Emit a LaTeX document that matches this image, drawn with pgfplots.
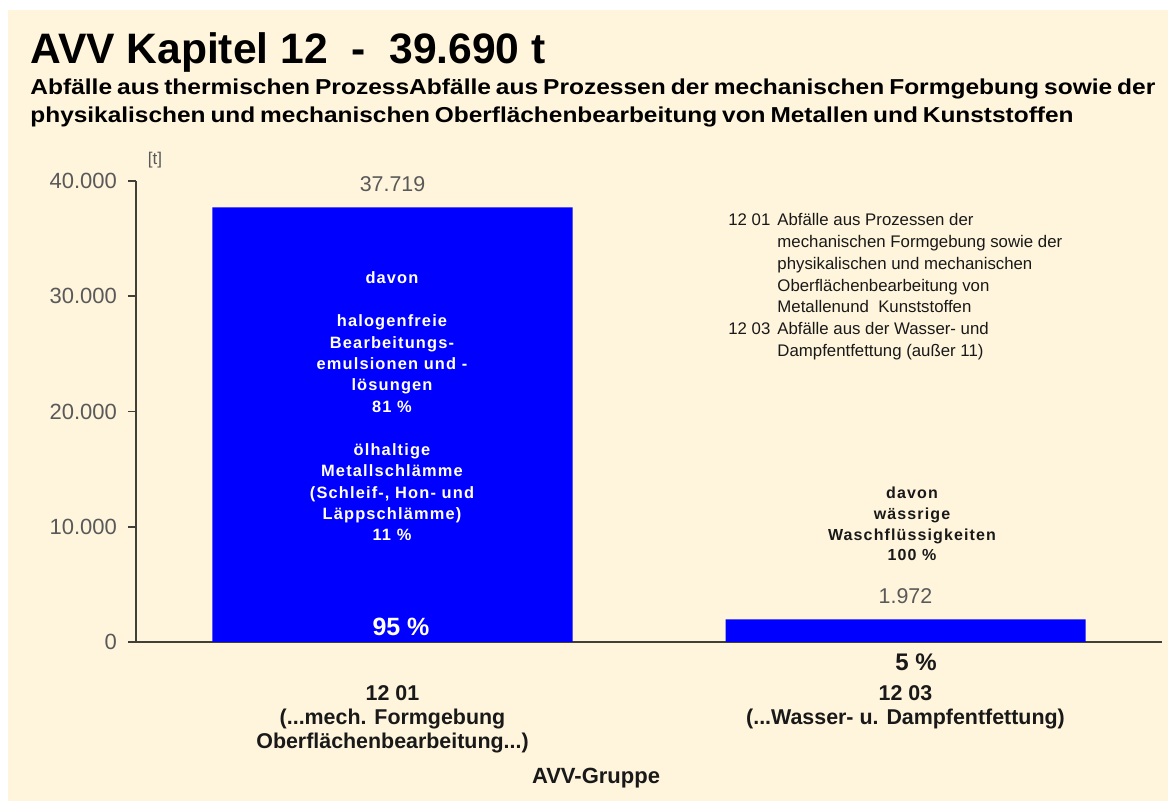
\documentclass[border=0pt]{standalone}
\usepackage{fontspec}
\setmainfont{Liberation Sans}
\newfontfamily\wideb[LetterSpace=7]{Liberation Sans}
\usepackage{pgfplots}
\pgfplotsset{compat=1.18}
\definecolor{cream}{RGB}{255,245,220}
\definecolor{tgray}{RGB}{89,89,89}
\definecolor{barblue}{RGB}{0,0,255}
\definecolor{axisc}{RGB}{64,64,56}
\definecolor{annot}{RGB}{25,25,25}
\protected\def\ddd{.{}.{}.}
\protected\def\catlab#1{\begin{tabular}[t]{@{}c@{}}#1\end{tabular}}
\begin{document}
\begin{tikzpicture}
\useasboundingbox (0,0) rectangle (584pt,-400.5pt);
\fill[white] (0,0) rectangle (584pt,-400.5pt);
\fill[cream] (4pt,-5pt) rectangle (584pt,-400.5pt);
\begin{axis}[
  at={(68pt,-321pt)}, anchor=south west,
  scale only axis, width=513pt, height=230.5pt,
  xmin=-0.5, xmax=1.5, ymin=0, ymax=40000,
  axis x line*=bottom, axis y line*=left,
  axis line style={draw=axisc, line width=0.8pt, -},
  ytick={0,10000,20000,30000,40000},
  scaled y ticks=false,
  /pgf/number format/1000 sep={.},
  /pgf/number format/assume math mode=true,
  yticklabel style={font=\fontsize{11}{13}\selectfont, text=tgray, xshift=-2pt},
  tick align=outside,
  y tick style={draw=axisc, line width=0.8pt},
  major tick length=4pt,
  xtick={0,1},
  xticklabels={{\catlab{12 01\\(\ddd mech. Formgebung\\Oberflächenbearbeitung\ddd)}},{\catlab{12 03\\(\ddd Wasser- u. Dampfentfettung)}}},
  xticklabel style={font=\bfseries\fontsize{10.7}{12}\selectfont, text=annot, anchor=base, inner sep=0pt, yshift=-25.25pt},
  x tick style={draw=none},
  ybar, bar width=180pt,
  nodes near coords,
  every node near coord/.append style={font=\fontsize{10.7}{12}\selectfont, text=tgray, yshift=4.4pt},
  clip=false,
]
\addplot[fill=barblue, draw=none] coordinates {(0,37719) (1,1972)};
\end{axis}
\begin{scope}[x=0.5pt, y=-0.5pt]
\node[anchor=base west, inner sep=0, font=\bfseries\fontsize{21.3}{24}\selectfont] at (30,64) {AVV Kapitel 12\ \ -\ \ 39.690 t};
\node[anchor=base west, inner sep=0, font=\bfseries\fontsize{10.8}{12}\selectfont] at (30,95) {\spaceskip=0.2em\relax\resizebox{562.5pt}{\height}{Abfälle aus thermischen ProzessAbfälle aus Prozessen der mechanischen Formgebung sowie der}};
\node[anchor=base west, inner sep=0, font=\bfseries\fontsize{10.8}{12}\selectfont] at (30,123) {\spaceskip=0.2em\relax\resizebox{521.5pt}{\height}{physikalischen und mechanischen Oberflächenbearbeitung von Metallen und Kunststoffen}};
\node[anchor=center, inner sep=0, font=\fontsize{8.5}{10}\selectfont, text=tgray] at (155,160) {[t]};
\node[anchor=base west, inner sep=0, font=\fontsize{8.4}{10.85}\selectfont, text=annot] at (728,226) {\begin{tabular}[t]{@{}l@{\hspace{3.5pt}}l@{}}
12 01 & Abfälle aus Prozessen der\\
 & mechanischen Formgebung sowie der\\
 & physikalischen und mechanischen\\
 & Oberflächenbearbeitung von\\
 & Metallenund\ \ Kunststoffen\\
12 03 & Abfälle aus der Wasser- und\\
 & Dampfentfettung (außer 11)
\end{tabular}};
\node[anchor=base, inner sep=0, align=center, text=white, font=\wideb\bfseries\fontsize{8.2}{10.72}\selectfont] at (392,541) {davon\\[10.72pt]halogenfreie\\Bearbeitungs-\\emulsionen und -\\lösungen\\81 \%\\[10.72pt]ölhaltige\\Metallschlämme\\(Schleif-, Hon- und\\Läppschlämme)\\11 \%};
\node[anchor=base, inner sep=0, text=white, font=\bfseries\fontsize{12.5}{14}\selectfont] at (401,636) {95 \%};
\node[anchor=base, inner sep=0, align=center, text=annot, font=\wideb\bfseries\fontsize{8}{10.35}\selectfont] at (912,561) {davon\\wässrige\\Waschflüssigkeiten\\100 \%};
\node[anchor=base, inner sep=0, text=annot, font=\bfseries\fontsize{12}{14}\selectfont] at (916,671) {5 \%};
\node[anchor=center, inner sep=0, text=annot, font=\bfseries\fontsize{11}{12}\selectfont] at (596,778) {AVV-Gruppe};
\end{scope}
\end{tikzpicture}
\end{document}
